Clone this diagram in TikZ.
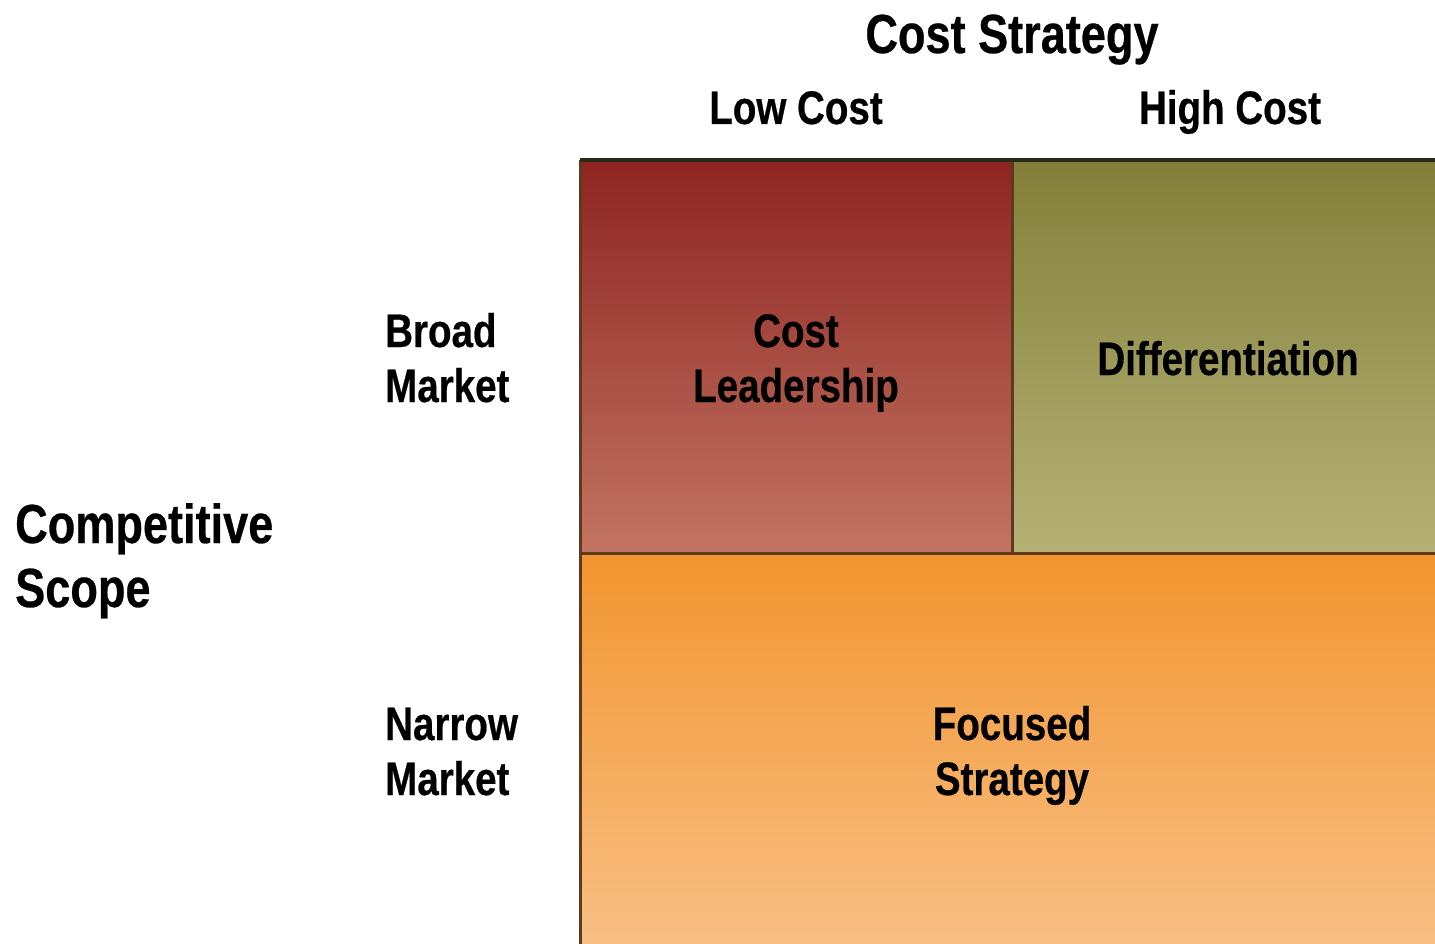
\documentclass[tikz,border=0pt]{standalone}
\usepackage{fontspec}
\newfontfamily\lblfont{Liberation Sans}[FakeStretch=0.82,FakeBold=0.5]
\definecolor{clTop}{HTML}{8E2421}
\definecolor{clBot}{HTML}{C27462}
\definecolor{dfTop}{HTML}{837F3A}
\definecolor{dfBot}{HTML}{B6B276}
\definecolor{fsTop}{HTML}{F2952F}
\definecolor{fsBot}{HTML}{F8BF84}
\definecolor{edge}{HTML}{5E3A1C}
\definecolor{topedge}{HTML}{2B2A1A}
\begin{document}
\begin{tikzpicture}[x=1pt,y=-1pt,
  lbl/.style={inner sep=0pt, anchor=base, text=black,
    font=\lblfont\bfseries\fontsize{47}{56}\selectfont},
  lblw/.style={lbl, anchor=base west},
  big/.style={lbl, font=\lblfont\bfseries\fontsize{55}{64}\selectfont},
  bigw/.style={big, anchor=base west},
  divider/.style={draw=edge, line width=3pt},
  topline/.style={draw=topedge, line width=4.5pt}]
\useasboundingbox[fill=white] (0,0) rectangle (1435,944);

% matrix cells
\shade[top color=clTop, bottom color=clBot] (580,160) rectangle (1012,553);
\shade[top color=dfTop, bottom color=dfBot] (1012,160) rectangle (1435,553);
\shade[top color=fsTop, bottom color=fsBot] (580,553) rectangle (1435,944);

% cell borders
\draw[divider] (1012,160) -- (1012,553);
\draw[divider] (580,553) -- (1435,553);
\draw[divider] (580,160) -- (580,944);
\draw[topline] (580,160) -- (1435,160);

% axis headings
\node[big] (title) at (1012,53) {Cost Strategy};
\node[lbl] (low) at (796,124) {Low Cost};
\node[lbl] (high) at (1230,124) {High Cost};

\node[bigw] (comp1) at (15,543) {Competitive};
\node[bigw] (comp2) at (15,607) {Scope};

\node[lblw] (broad1) at (385,347) {Broad};
\node[lblw] (broad2) at (385,402) {Market};
\node[lblw] (narrow1) at (385,740) {Narrow};
\node[lblw] (narrow2) at (385,795) {Market};

% cell labels
\node[lbl] (cl1) at (796,347) {Cost};
\node[lbl] (cl2) at (796,402) {Leadership};
\node[lbl] (diff) at (1228,375) {Differentiation};
\node[lbl] (fs1) at (1012,740) {Focused};
\node[lbl] (fs2) at (1012,795) {Strategy};
\end{tikzpicture}
\end{document}
